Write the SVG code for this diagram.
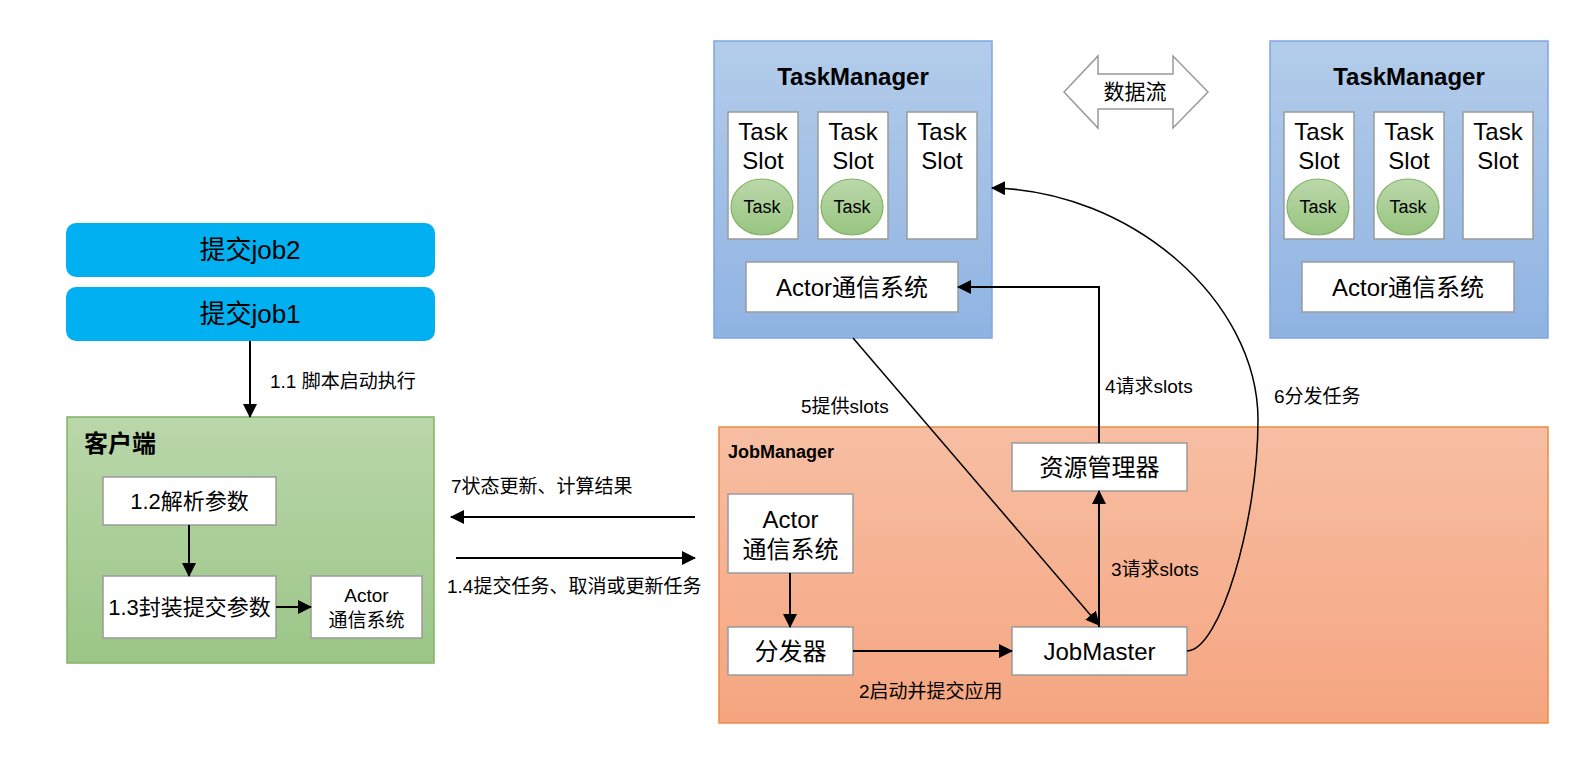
<svg xmlns="http://www.w3.org/2000/svg" width="1594" height="768" viewBox="0 0 1594 768">
<defs>
<linearGradient id="tmG" x1="0" y1="0" x2="0" y2="1"><stop offset="0" stop-color="#B3CCEA"/><stop offset="1" stop-color="#8FB3E2"/></linearGradient>
<linearGradient id="jmG" x1="0" y1="0" x2="0" y2="1"><stop offset="0" stop-color="#F7BEA3"/><stop offset="1" stop-color="#F5A580"/></linearGradient>
<linearGradient id="clG" x1="0" y1="0" x2="0" y2="1"><stop offset="0" stop-color="#BAD7AA"/><stop offset="1" stop-color="#9BC687"/></linearGradient>
<linearGradient id="tkG" x1="0" y1="0" x2="0" y2="1"><stop offset="0" stop-color="#BBD8AB"/><stop offset="1" stop-color="#98C580"/></linearGradient>
<marker id="arr" viewBox="0 0 14 14" refX="13" refY="7" markerWidth="14" markerHeight="14" orient="auto" markerUnits="userSpaceOnUse"><path d="M0,0 L14,7 L0,14 z" fill="#000"/></marker>
</defs>
<style>
text{font-family:"Liberation Sans","Noto Sans CJK SC",sans-serif;fill:#000}
.tm{fill:url(#tmG);stroke:#7EA6E0;stroke-width:1.5}
.jm{fill:url(#jmG);stroke:#F08A3E;stroke-width:1.5}
.cl{fill:url(#clG);stroke:#82B366;stroke-width:1.5}
.box{fill:#fff;stroke:#9A9A9A;stroke-width:1.5}
.task{fill:url(#tkG);stroke:#82B366;stroke-width:1.2}
.job{fill:#00B0F0}
.c{text-anchor:middle}
.t24{font-size:24px}
.t22{font-size:22px}
.t19{font-size:19px}
.t18{font-size:18px}
.b{font-weight:bold}
.ln{fill:none;stroke:#000;stroke-width:2}
.ln2{fill:none;stroke:#000;stroke-width:1.5}
</style>

<g id="job2"><rect class="job" x="66" y="223" width="369" height="54" rx="10"/><text class="c" x="250" y="259" font-size="26">提交job2</text></g>
<g id="job1"><rect class="job" x="66" y="287" width="369" height="54" rx="10"/><text class="c" x="250" y="323" font-size="26">提交job1</text></g>

<g id="client">
<rect class="cl" x="67" y="417" width="367" height="246"/>
<text class="t24 b" x="84" y="452">客户端</text>
</g>
<g id="parse"><rect class="box" x="103" y="477" width="173" height="48"/><text class="c t22" x="189.5" y="509">1.2解析参数</text></g>
<g id="pack"><rect class="box" x="103" y="576" width="173" height="62"/><text class="c t22" x="189.5" y="615">1.3封装提交参数</text></g>
<g id="clientActor"><rect class="box" x="311" y="576" width="111" height="62"/><text class="c t19" x="366.5" y="602">Actor</text><text class="c t19" x="366.5" y="627">通信系统</text></g>

<g id="tm1">
<rect class="tm" x="714" y="41" width="278" height="297"/>
<text class="c t24 b" x="853" y="85">TaskManager</text>
</g>
<g id="tm1slot1"><rect class="box" x="728" y="112" width="70" height="127"/><text class="c t24" x="763" y="140">Task</text><text class="c t24" x="763" y="169">Slot</text><ellipse class="task" cx="762" cy="207" rx="31" ry="28"/><text class="c t18" x="762" y="213">Task</text></g>
<g id="tm1slot2"><rect class="box" x="818" y="112" width="70" height="127"/><text class="c t24" x="853" y="140">Task</text><text class="c t24" x="853" y="169">Slot</text><ellipse class="task" cx="852" cy="207" rx="31" ry="28"/><text class="c t18" x="852" y="213">Task</text></g>
<g id="tm1slot3"><rect class="box" x="907" y="112" width="70" height="127"/><text class="c t24" x="942" y="140">Task</text><text class="c t24" x="942" y="169">Slot</text></g>
<g id="tm1actor"><rect class="box" x="746" y="262" width="212" height="50"/><text class="c t24" x="852" y="296">Actor通信系统</text></g>

<g id="tm2">
<rect class="tm" x="1270" y="41" width="278" height="297"/>
<text class="c t24 b" x="1409" y="85">TaskManager</text>
</g>
<g id="tm2slot1"><rect class="box" x="1284" y="112" width="70" height="127"/><text class="c t24" x="1319" y="140">Task</text><text class="c t24" x="1319" y="169">Slot</text><ellipse class="task" cx="1318" cy="207" rx="31" ry="28"/><text class="c t18" x="1318" y="213">Task</text></g>
<g id="tm2slot2"><rect class="box" x="1374" y="112" width="70" height="127"/><text class="c t24" x="1409" y="140">Task</text><text class="c t24" x="1409" y="169">Slot</text><ellipse class="task" cx="1408" cy="207" rx="31" ry="28"/><text class="c t18" x="1408" y="213">Task</text></g>
<g id="tm2slot3"><rect class="box" x="1463" y="112" width="70" height="127"/><text class="c t24" x="1498" y="140">Task</text><text class="c t24" x="1498" y="169">Slot</text></g>
<g id="tm2actor"><rect class="box" x="1302" y="262" width="212" height="50"/><text class="c t24" x="1408" y="296">Actor通信系统</text></g>

<g id="dataflow"><polygon points="1064,92 1098,56 1098,74 1173,74 1173,56 1208,92 1173,128 1173,109 1098,109 1098,128" fill="#fff" stroke="#999" stroke-width="1.5"/><text class="c" x="1135" y="99" font-size="21">数据流</text></g>

<g id="jobmanager">
<rect class="jm" x="719" y="427" width="829" height="296"/>
<text class="t18 b" x="728" y="458">JobManager</text>
</g>
<g id="jmActor"><rect class="box" x="728" y="494" width="125" height="79"/><text class="c t24" x="790.5" y="528">Actor</text><text class="c t24" x="790.5" y="558">通信系统</text></g>
<g id="dispatcher"><rect class="box" x="728" y="627" width="125" height="48"/><text class="c t24" x="790.5" y="660">分发器</text></g>
<g id="jobmaster"><rect class="box" x="1012" y="627" width="175" height="48"/><text class="c t24" x="1099.5" y="660">JobMaster</text></g>
<g id="rm"><rect class="box" x="1012" y="443" width="175" height="48"/><text class="c t24" x="1099.5" y="476">资源管理器</text></g>

<g id="connectors">
<path class="ln" d="M250,341 V417" marker-end="url(#arr)"/>
<path class="ln" d="M189,525 V576" marker-end="url(#arr)"/>
<path class="ln" d="M276,607 H311" marker-end="url(#arr)"/>
<path class="ln" d="M695,517 H451" marker-end="url(#arr)"/>
<path class="ln" d="M456,558 H695" marker-end="url(#arr)"/>
<path class="ln" d="M790,573 V627" marker-end="url(#arr)"/>
<path class="ln" d="M853,651 H1012" marker-end="url(#arr)"/>
<path class="ln" d="M1099,627 V491" marker-end="url(#arr)"/>
<path class="ln" d="M1099,443 V287 H958" marker-end="url(#arr)"/>
<path class="ln2" d="M853,338 L1099,625" marker-end="url(#arr)"/>
<path class="ln2" d="M1187,651 C1220,651 1258,520 1258,420 C1258,300 1130,190 992,188" marker-end="url(#arr)"/>
<text class="t19" x="270" y="388">1.1 脚本启动执行</text>
<text class="t19" x="451" y="493">7状态更新、计算结果</text>
<text class="t19" x="447" y="593">1.4提交任务、取消或更新任务</text>
<text class="t19" x="859" y="698">2启动并提交应用</text>
<text class="t19" x="1111" y="576">3请求slots</text>
<text class="t19" x="1105" y="393">4请求slots</text>
<text class="t19" x="801" y="413">5提供slots</text>
<text class="t19" x="1274" y="403">6分发任务</text>
</g>
</svg>
